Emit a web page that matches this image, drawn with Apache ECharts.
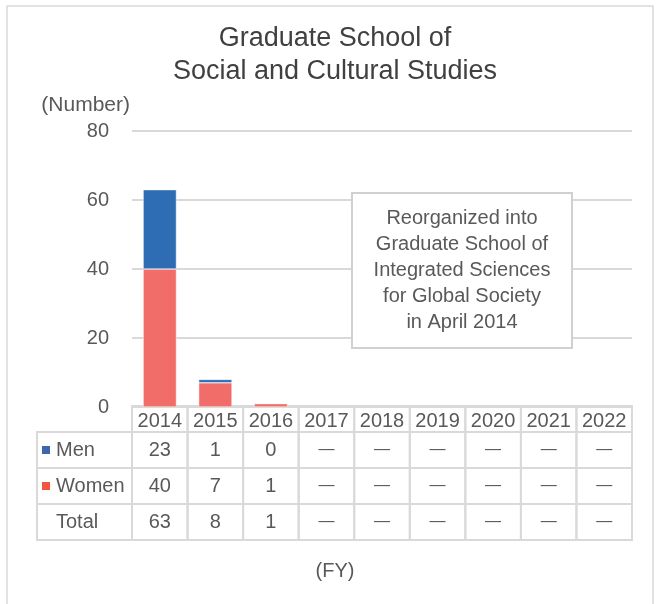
<!DOCTYPE html>
<html>
<head>
<meta charset="utf-8">
<script src="https://cdn.jsdelivr.net/npm/echarts@6/dist/echarts.min.js"></script>
<style>
  html, body { margin: 0; padding: 0; background: #fff; }
  #main { width: 662px; height: 604px; }
</style>
</head>
<body>
<div id="main"></div>
<script>
// data
const years = ['2014', '2015', '2016', '2017', '2018', '2019', '2020', '2021', '2022'];
const men = [23, 1, 0, null, null, null, null, null, null];
const women = [40, 7, 1, null, null, null, null, null, null];
const totals = [63, 8, 1, null, null, null, null, null, null];
const yTicks = [0, 20, 40, 60, 80];
const noteLines = ['Reorganized into', 'Graduate School of', 'Integrated Sciences', 'for Global Society', 'in April 2014'];

const FONT = "'Liberation Sans', Arial, sans-serif";
const TXT = '#595959';
const LINE = '#d9d9d9';
const MEN_BAR = '#2E6DB4';
const WOMEN_BAR = '#F16D69';

const chart = echarts.init(document.getElementById('main'));

const option = {
    animation: false,
    textStyle: { fontFamily: FONT },
    title: {
        text: 'Graduate School of\nSocial and Cultural Studies',
        left: 330,
        top: 17,
        textAlign: 'center',
        textStyle: { fontFamily: FONT, fontSize: 27, fontWeight: 'normal', color: '#404040', lineHeight: 33 }
    },
    grid: { left: 132, right: 30, top: 131, bottom: 197 },
    xAxis: {
        type: 'category',
        data: years,
        axisLine: { show: false },
        axisTick: { show: false },
        axisLabel: { fontFamily: FONT, fontSize: 20, color: TXT, margin: 4, interval: 0, hideOverlap: false }
    },
    yAxis: {
        type: 'value',
        min: yTicks[0],
        max: yTicks[yTicks.length - 1],
        interval: 20,
        axisLine: { show: false },
        axisTick: { show: false },
        axisLabel: { fontFamily: FONT, fontSize: 20, color: TXT, margin: 23 },
        splitLine: { lineStyle: { color: LINE, width: 2 } },
        name: '(Number)',
        nameLocation: 'end',
        nameGap: 15,
        nameTextStyle: { fontFamily: FONT, fontSize: 21, color: TXT, align: 'right', padding: [0, 2, 0, 0] }
    },
    series: [
        {
            name: 'Women', type: 'bar', stack: 'n', data: women, barWidth: '60%',
            itemStyle: { color: WOMEN_BAR, borderColor: '#fff', borderWidth: 0.5 }
        },
        {
            name: 'Men', type: 'bar', stack: 'n', data: men, barWidth: '60%',
            itemStyle: { color: MEN_BAR, borderColor: '#fff', borderWidth: 0.5 }
        }
    ]
};
chart.setOption(option);

// build the data table under the axis from the arrays
const c0 = chart.convertToPixel({ xAxisIndex: 0 }, years[0]);
const c1 = chart.convertToPixel({ xAxisIndex: 0 }, years[1]);
const band = c1 - c0;
const rowTops = [406, 432, 468, 504, 540];
const labelLeft = 37;
const gridLeft = c0 - band / 2;

const g = [];
// outer chart border
g.push({ type: 'rect', shape: { x: 7, y: 6, width: 646, height: 620 }, style: { fill: null, stroke: LINE, lineWidth: 1.5 }, silent: true });

// header row (years)
years.forEach(function (y, i) {
    g.push({ type: 'rect', shape: { x: gridLeft + band * i, y: rowTops[0], width: band, height: rowTops[1] - rowTops[0] },
        style: { fill: null, stroke: LINE, lineWidth: 2 }, silent: true });
});

const rows = [
    { label: 'Men', vals: men, mark: '#3E66AF' },
    { label: 'Women', vals: women, mark: '#EF5741' },
    { label: 'Total', vals: totals, mark: null }
];
rows.forEach(function (r, ri) {
    const top = rowTops[ri + 1];
    const h = rowTops[ri + 2] - top;
    const cy = top + h / 2;
    g.push({ type: 'rect', shape: { x: labelLeft, y: top, width: gridLeft - labelLeft, height: h },
        style: { fill: null, stroke: LINE, lineWidth: 2 }, silent: true });
    if (r.mark) {
        g.push({ type: 'rect', shape: { x: 42, y: cy - 4, width: 8, height: 8 }, style: { fill: r.mark }, silent: true });
    }
    g.push({ type: 'text', x: 56, y: cy, silent: true,
        style: { text: r.label, font: '20px ' + FONT, fill: TXT, textVerticalAlign: 'middle', textAlign: 'left' } });
    r.vals.forEach(function (v, i) {
        g.push({ type: 'rect', shape: { x: gridLeft + band * i, y: top, width: band, height: h },
            style: { fill: null, stroke: LINE, lineWidth: 2 }, silent: true });
        g.push({ type: 'text', x: gridLeft + band * (i + 0.5), y: cy, silent: true,
            style: { text: v == null ? '—' : String(v), font: (v == null ? '16px ' : '20px ') + FONT, fill: TXT, textAlign: 'center', textVerticalAlign: 'middle' } });
    });
});

// x axis title
g.push({ type: 'text', x: 335, y: 571, silent: true,
    style: { text: '(FY)', font: '20px ' + FONT, fill: TXT, textAlign: 'center', textVerticalAlign: 'middle' } });

// note box
g.push({ type: 'rect', shape: { x: 352, y: 193, width: 220, height: 155 }, style: { fill: '#fff', stroke: '#d0d0d0', lineWidth: 2 }, silent: true, z: 10 });
g.push({ type: 'text', x: 462, y: 270, silent: true, z: 11,
    style: { text: noteLines.join('\n'), font: '20px ' + FONT, fill: TXT, textAlign: 'center', textVerticalAlign: 'middle', lineHeight: 26 } });

chart.setOption({ graphic: g });
</script>
</body>
</html>
